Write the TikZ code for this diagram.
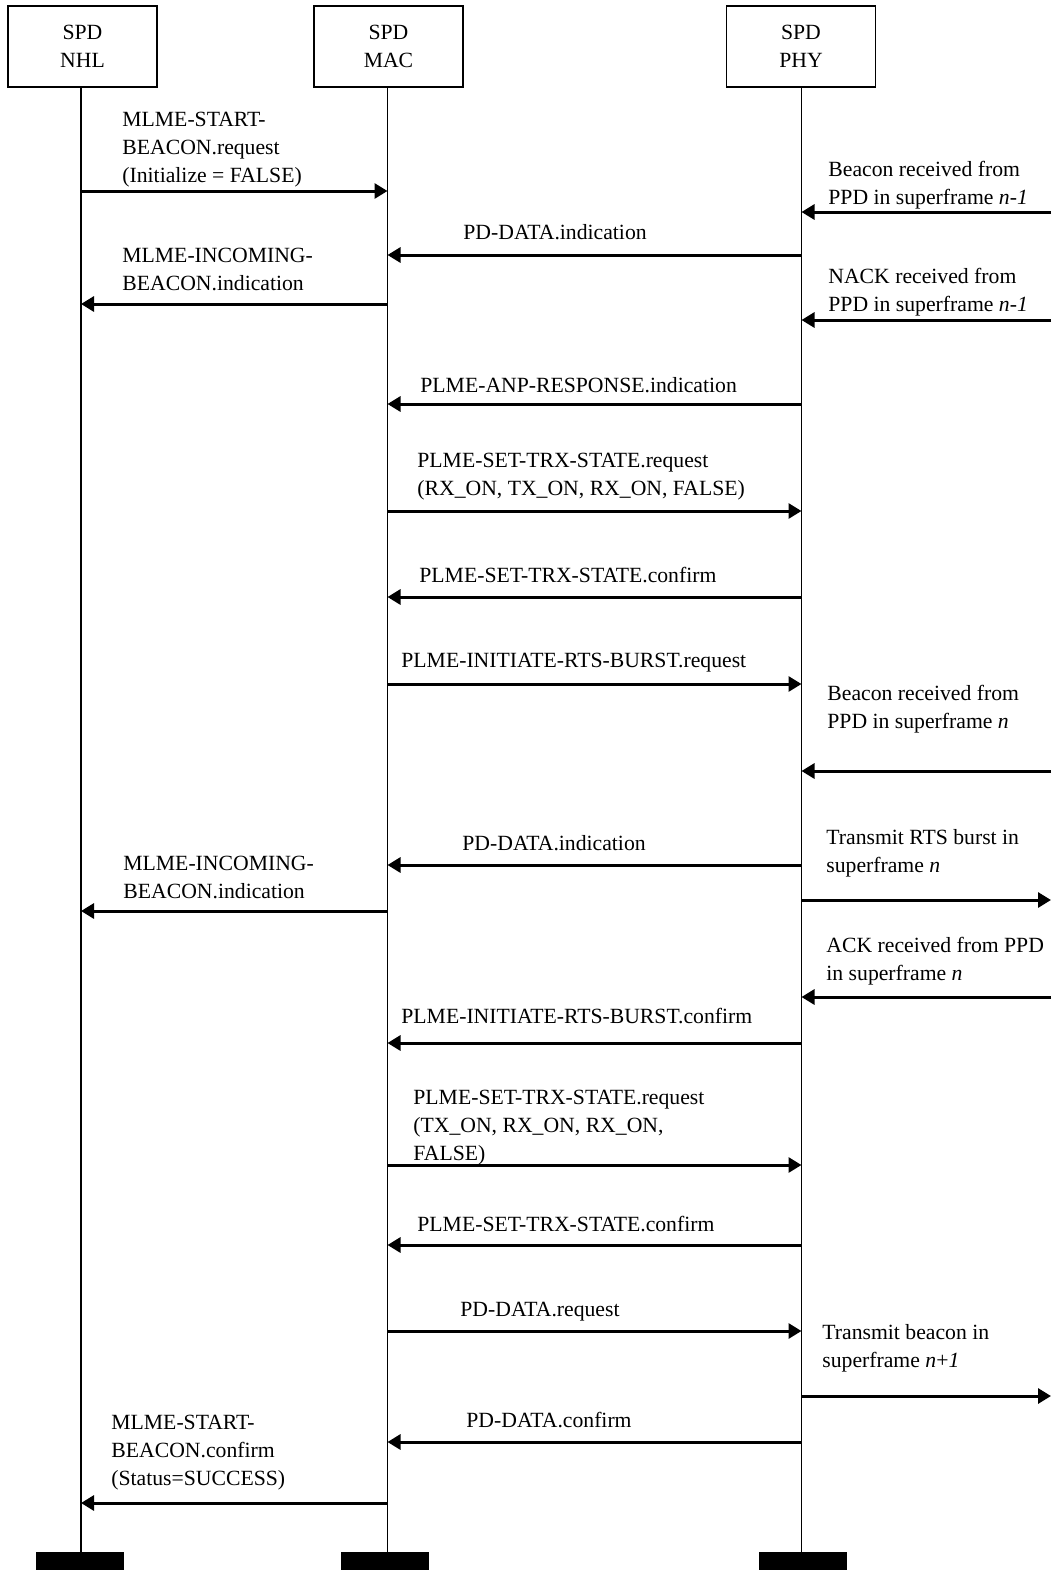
\documentclass[tikz,border=0pt]{standalone}
\usepackage{fontspec}
\setmainfont{Liberation Serif}
\usetikzlibrary{arrows.meta}
\begin{document}
\begin{tikzpicture}[x=0.5pt,y=-0.5pt,
  every node/.style={font=\fontsize{10.85pt}{13.9pt}\selectfont},
  actor/.style={draw,line width=0.7pt,minimum width=74.5pt,minimum height=40.5pt,align=center,inner sep=0pt},
  endbar/.style={fill=black,draw=none,minimum width=44pt,minimum height=9pt,inner sep=0pt},
  life/.style={line width=0.75pt},
  msg/.style={line width=1.5pt,-{Triangle[length=6.5pt,width=7.5pt]}},
  lbl/.style={anchor=north west,inner sep=0pt,align=left}]
\useasboundingbox (0,0) rectangle (1051,1570);

% participants
\node[actor] (nhl) at (82.5,46.5) {SPD\\NHL};
\node[actor] (mac) at (388.5,46.5) {SPD\\MAC};
\node[actor] (phy) at (801,46.5) {SPD\\PHY};

% end-of-life bars
\node[endbar] (nhlend) at (80,1561) {};
\node[endbar] (macend) at (385,1561) {};
\node[endbar] (phyend) at (802.5,1561) {};

% lifelines
\coordinate (nhlx) at (81,0);
\coordinate (macx) at (387.5,0);
\coordinate (phyx) at (801.5,0);
\coordinate (edge) at (1051,0);
\draw[life] (nhlx |- nhl.south) -- (nhlx |- nhlend.north);
\draw[life] (macx |- mac.south) -- (macx |- macend.north);
\draw[life] (phyx |- phy.south) -- (phyx |- phyend.north);

% messages
\draw[msg] (nhlx |- 0,191) -- (macx |- 0,191);
\draw[msg] (phyx |- 0,255) -- (macx |- 0,255);
\draw[msg] (macx |- 0,304) -- (nhlx |- 0,304);
\draw[msg] (edge |- 0,212) -- (phyx |- 0,212);
\draw[msg] (edge |- 0,320) -- (phyx |- 0,320);
\draw[msg] (phyx |- 0,404) -- (macx |- 0,404);
\draw[msg] (macx |- 0,511) -- (phyx |- 0,511);
\draw[msg] (phyx |- 0,597) -- (macx |- 0,597);
\draw[msg] (macx |- 0,684) -- (phyx |- 0,684);
\draw[msg] (edge |- 0,771) -- (phyx |- 0,771);
\draw[msg] (phyx |- 0,865) -- (macx |- 0,865);
\draw[msg] (macx |- 0,911) -- (nhlx |- 0,911);
\draw[msg] (phyx |- 0,900) -- (edge |- 0,900);
\draw[msg] (edge |- 0,997) -- (phyx |- 0,997);
\draw[msg] (phyx |- 0,1043) -- (macx |- 0,1043);
\draw[msg] (macx |- 0,1165) -- (phyx |- 0,1165);
\draw[msg] (phyx |- 0,1245) -- (macx |- 0,1245);
\draw[msg] (macx |- 0,1331) -- (phyx |- 0,1331);
\draw[msg] (phyx |- 0,1396) -- (edge |- 0,1396);
\draw[msg] (phyx |- 0,1442) -- (macx |- 0,1442);
\draw[msg] (macx |- 0,1503) -- (nhlx |- 0,1503);

% message labels
\node[lbl] (l1) at (122,106.75) {\strut MLME-START-\\BEACON.request\\(Initialize = FALSE)};
\node[lbl] (l2) at (463,219.75) {\strut PD-DATA.indication};
\node[lbl] (l3) at (122,242.75) {\strut MLME-INCOMING-\\BEACON.indication};
\node[lbl] (l4) at (828,156.75) {\strut Beacon received from\\PPD in superframe \textit{n-1}};
\node[lbl] (l5) at (828,263.75) {\strut NACK received from\\PPD in superframe \textit{n-1}};
\node[lbl] (l6) at (420,372.75) {\strut PLME-ANP-RESPONSE.indication};
\node[lbl] (l7) at (417,447.75) {\strut PLME-SET-TRX-STATE.request\\(RX\_ON, TX\_ON, RX\_ON, FALSE)};
\node[lbl] (l8) at (419,562.75) {\strut PLME-SET-TRX-STATE.confirm};
\node[lbl] (l9) at (401,647.75) {\strut PLME-INITIATE-RTS-BURST.request};
\node[lbl] (l10) at (827,680.75) {\strut Beacon received from\\PPD in superframe \textit{n}};
\node[lbl] (l11) at (462,830.75) {\strut PD-DATA.indication};
\node[lbl] (l12) at (123,850.75) {\strut MLME-INCOMING-\\BEACON.indication};
\node[lbl] (l13) at (826,824.75) {\strut Transmit RTS burst in\\superframe \textit{n}};
\node[lbl] (l14) at (826,932.75) {\strut ACK received from PPD\\in superframe \textit{n}};
\node[lbl] (l15) at (401,1003.75) {\strut PLME-INITIATE-RTS-BURST.confirm};
\node[lbl] (l16) at (413,1084.75) {\strut PLME-SET-TRX-STATE.request\\(TX\_ON, RX\_ON, RX\_ON,\\FALSE)};
\node[lbl] (l17) at (417,1211.75) {\strut PLME-SET-TRX-STATE.confirm};
\node[lbl] (l18) at (460,1296.75) {\strut PD-DATA.request};
\node[lbl] (l19) at (822,1319.75) {\strut Transmit beacon in\\superframe \textit{n}+\textit{1}};
\node[lbl] (l20) at (466,1407.75) {\strut PD-DATA.confirm};
\node[lbl] (l21) at (111,1409.75) {\strut MLME-START-\\BEACON.confirm\\(Status=SUCCESS)};
\end{tikzpicture}
\end{document}
